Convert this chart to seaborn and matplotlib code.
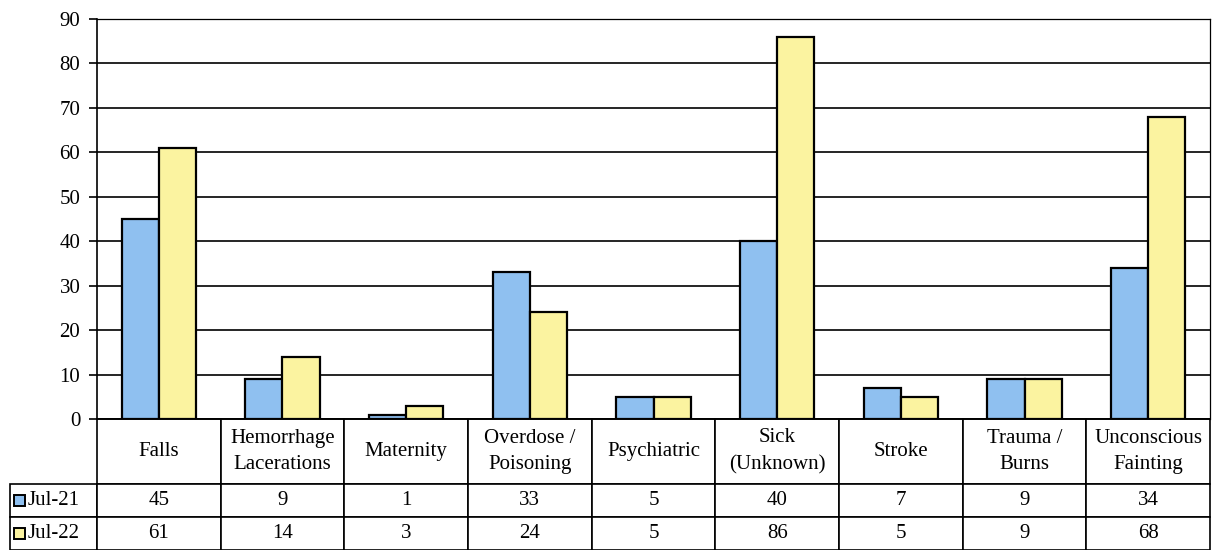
import pandas as pd
import numpy as np
import matplotlib.pyplot as plt
from matplotlib.patches import Rectangle
import seaborn as sns

sns.set_style("white")
plt.rcParams.update({
    "font.family": ["Liberation Serif", "DejaVu Serif"],
    "font.size": 15,
    "text.color": "black",
    "axes.edgecolor": "black",
    "ytick.color": "black",
})

# --- data ---
categories = ["Falls", "Hemorrhage\nLacerations", "Maternity", "Overdose /\nPoisoning",
              "Psychiatric", "Sick\n(Unknown)", "Stroke", "Trauma /\nBurns",
              "Unconscious\nFainting"]
series = ["Jul-21", "Jul-22"]
jul21 = [45, 9, 1, 33, 5, 40, 7, 9, 34]
jul22 = [61, 14, 3, 24, 5, 86, 5, 9, 68]
yticks = list(range(0, 91, 10))

COLORS = ["#8fc0f0", "#fbf3a0"]
FS = 15

df = pd.DataFrame({
    "category": categories * 2,
    "series": [series[0]] * len(categories) + [series[1]] * len(categories),
    "value": jul21 + jul22,
})

fig = plt.figure(figsize=(12.12, 5.5), dpi=100)
ax = fig.add_axes([97 / 1212, 131 / 550, 1113 / 1212, 400 / 550])

sns.barplot(data=df, x="category", y="value", hue="series", order=categories,
            hue_order=series, palette=COLORS, width=0.6, edgecolor="black",
            linewidth=1.6, saturation=1, legend=False, ax=ax)

ax.set_ylim(0, 90)
ax.set_yticks(yticks)
ax.set_xlim(-0.5, len(categories) - 0.5)
ax.yaxis.grid(True, color="black", linewidth=1.2)
ax.set_axisbelow(True)
ax.set_xlabel("")
ax.set_ylabel("")
ax.set_xticks([])
ax.tick_params(axis="y", direction="out", length=6, width=1.2, left=True, labelsize=FS, pad=6)
for s in ["left", "top", "right", "bottom"]:
    ax.spines[s].set_visible(True)
    ax.spines[s].set_color("black")
    ax.spines[s].set_linewidth(1.2)
ax.spines["top"].set_linewidth(0.9)
ax.spines["right"].set_linewidth(0.9)

# --- data table under the plot ---
cell_text = [[""] + [str(v) for v in jul21], [""] + [str(v) for v in jul22]]
lab_w = 87 / 1113
tbl = ax.table(cellText=cell_text, colLabels=[""] + categories,
               cellLoc="center", bbox=[-lab_w, -131 / 400, 1 + lab_w, 131 / 400])
tbl.auto_set_font_size(False)
tbl.set_fontsize(FS)
col_w = 1113 / len(categories)
for (r, c), cell in tbl.get_celld().items():
    cell.set_edgecolor("black")
    cell.set_linewidth(1.2)
    cell.set_height(65 if r == 0 else 33)
    cell.set_width(87 if c == 0 else col_w)
    cell.get_text().set_fontsize(FS)
    if r == 0:
        cell.get_text().set_linespacing(1.55)
    if r == 0 and c == 0:
        cell.visible_edges = ""

# legend keys + row labels in the first column
row_y = [-(65 + 16.5) / 400, -(65 + 33 + 16.5) / 400]
for i, name in enumerate(series):
    ax.add_patch(Rectangle((-83 / 1113, row_y[i] - 5.5 / 400), 11 / 1113, 11 / 400,
                           transform=ax.transAxes, facecolor=COLORS[i],
                           edgecolor="black", linewidth=1.4, clip_on=False))
    ax.text(-69 / 1113, row_y[i], name, transform=ax.transAxes, ha="left",
            va="center", fontsize=FS)

plt.savefig("out.png", dpi=100)
